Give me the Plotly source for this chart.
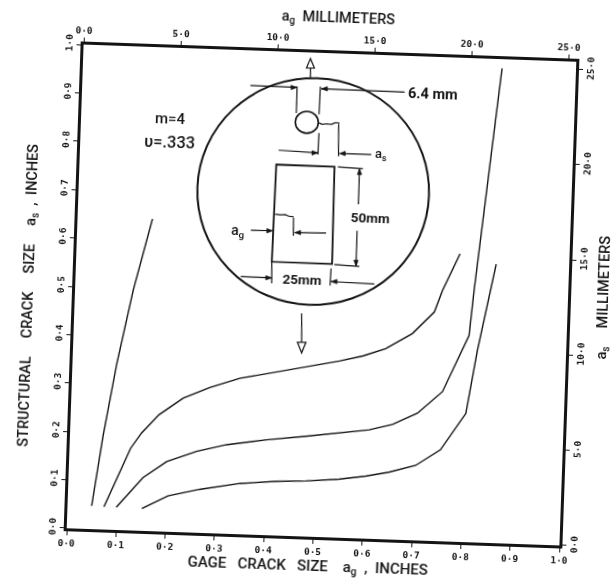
import plotly.graph_objects as go

# values (inches)
curve1_x = [0.049, 0.067, 0.090, 0.118, 0.152]
curve1_y = [0.048, 0.192, 0.344, 0.496, 0.645]
curve2_x = [0.074, 0.124, 0.145, 0.179, 0.227, 0.280, 0.340, 0.414, 0.473, 0.541, 0.588, 0.634, 0.687, 0.730, 0.745, 0.778]
curve2_y = [0.047, 0.170, 0.202, 0.241, 0.277, 0.301, 0.322, 0.338, 0.350, 0.365, 0.377, 0.394, 0.427, 0.473, 0.518, 0.595]
curve3_x = [0.099, 0.151, 0.198, 0.258, 0.318, 0.399, 0.478, 0.545, 0.606, 0.653, 0.703, 0.752, 0.802, 0.809, 0.850]
curve3_y = [0.047, 0.110, 0.145, 0.168, 0.184, 0.197, 0.207, 0.216, 0.225, 0.238, 0.263, 0.309, 0.427, 0.520, 0.981]
curve4_x = [0.151, 0.203, 0.267, 0.348, 0.422, 0.481, 0.548, 0.602, 0.649, 0.703, 0.752, 0.801, 0.820, 0.843, 0.852]
curve4_y = [0.046, 0.074, 0.090, 0.105, 0.112, 0.115, 0.121, 0.129, 0.139, 0.155, 0.189, 0.266, 0.397, 0.521, 0.576]

inch_ticks = [0.0, 0.1, 0.2, 0.3, 0.4, 0.5, 0.6, 0.7, 0.8, 0.9, 1.0]
mm_ticks = [0.0, 5.0, 10.0, 15.0, 20.0, 25.0]

INK = "#141414"
TICKFONT = dict(family="DejaVu Sans Mono", size=9.5, color=INK, weight="bold")


def lab(v):
    return f"{v:.1f}".replace(".", "·")


def P(px, py):
    """Page position in the scan -> inches on the chart's own axes."""
    dx, dy = px - 67.0, 529.0 - py
    D = 239870.0
    return (486 * dx - 16 * dy) / D, (17 * dx + 493 * dy) / D


def path(pts, close=False, fill=None, w=1.2):
    q = [P(*p) for p in pts]
    s = "M " + " L ".join(f"{a:.4f},{b:.4f}" for a, b in q) + (" Z" if close else "")
    d = dict(type="path", path=s, xref="x", yref="y", line=dict(color=INK, width=w), layer="above")
    if fill:
        d["fillcolor"] = fill
    return d


def ell(cx, cy, rx, ry, w):
    x0, y0 = P(cx, cy)
    ax, _ = P(cx + rx, cy)
    _, by = P(cx, cy - ry)
    return dict(type="circle", xref="x", yref="y",
                x0=2 * x0 - ax, x1=ax, y0=2 * y0 - by, y1=by,
                line=dict(color=INK, width=w), layer="above")


def head(tip, d, size=6, wid=2.2):
    """Filled arrowhead; d is the unit direction it points along."""
    x, y = tip
    a = (x - d[0] * size - d[1] * wid, y - d[1] * size - d[0] * wid)
    b = (x - d[0] * size + d[1] * wid, y - d[1] * size + d[0] * wid)
    return path([tip, a, b], close=True, fill=INK, w=0.6)


shapes = [
    ell(313, 190.5, 116, 114, 2),
    ell(306.5, 121, 11.5, 11, 1.6),
    path([(276, 163.3), (334.3, 165.7), (332, 263.3), (271.7, 261)], close=True, w=1.8),
    # load arrows
    path([(310, 76), (310, 66)], w=1.2),
    path([(310, 57), (306, 66.5), (314, 66.5)], close=True, fill="white", w=1.2),
    path([(301.7, 313), (301.7, 342)], w=1.2),
    path([(301.7, 352.7), (297.5, 342), (306, 342)], close=True, fill="white", w=1.2),
    # 6.4 mm
    path([(250, 84), (296.7, 86)]), head((296.7, 86), (1, 0)),
    path([(296.7, 85), (296, 111.7)]),
    path([(320, 85), (318.7, 113)]),
    path([(321, 87.3), (404.3, 90.7)]), head((321, 87.3), (-1, 0)),
    # a_s
    path([(318.7, 121.7), (322, 123), (326, 122.5), (331, 123), (335, 121.5), (339.3, 121.7)]),
    path([(318.7, 131.7), (317.7, 153.3)]),
    path([(278.3, 149), (317.7, 151.7)]), head((317.7, 151.7), (1, 0)),
    path([(338.3, 122.7), (338.3, 155)]),
    path([(371, 153.3), (341, 152.3)]), head((339, 152.3), (-1, 0)),
    # 50 mm
    path([(337.7, 165.7), (362.7, 167.7)]),
    path([(334.3, 264), (359.3, 265.7)]),
    path([(359.3, 168), (358.3, 203.3)]), head((359.3, 167.5), (0, -1)),
    path([(357, 230), (356, 265)]), head((356, 265.5), (0, 1)),
    # 25 mm
    path([(240.7, 276), (271.7, 277.3)]), head((271.7, 277.3), (1, 0)),
    path([(374.3, 283.3), (331, 281)]), head((331, 281), (-1, 0)),
    path([(271.7, 261), (271.7, 282.7)]),
    path([(331, 268), (330, 285)]),
    # a_g
    path([(250.7, 229.3), (272.7, 230)]), head((272.7, 230), (1, 0)),
    path([(275, 213.3), (280, 214), (285, 213.8), (289, 215.5), (293.3, 215.7)]),
    path([(293.3, 216.7), (293.3, 235)]),
    path([(295, 231.8), (326, 232.3)]), head((294.5, 231.8), (-1, 0)),
]


def note(px, py, text, size, angle=0, family="Roboto", weight=500):
    x, y = P(px, py)
    return dict(x=x, y=y, xref="paper", yref="paper", text=text, showarrow=False, textangle=angle,
                xanchor="center", yanchor="middle",
                font=dict(family=family, size=size, color=INK, weight=weight))


annotations = [
    note(338, 17, "a<sub>g</sub>  MILLIMETERS", 14.5),
    note(308, 567, "GAGE   CRACK   SIZE    a<sub>g</sub>  ,  INCHES", 15),
    note(28, 295, "STRUCTURAL     CRACK     SIZE     a<sub>s</sub>  ,  INCHES", 14.5, angle=-90),
    note(604, 297, "a<sub>s</sub>     MILLIMETERS", 14.5, angle=-90),
    note(170, 117, "m=4", 15),
    note(169, 141, "υ=.333", 16.5),
    note(432.7, 93, "6.4 mm", 14.5, weight=700),
    note(381, 153, "a<sub>s</sub>", 13),
    note(370, 216.7, "50mm", 13.5, weight=700),
    note(302, 279, "25mm", 13.5, weight=700),
    note(238, 230, "a<sub>g</sub>", 14),
]

fig = go.Figure()
for xs, ys in [(curve1_x, curve1_y), (curve2_x, curve2_y), (curve3_x, curve3_y), (curve4_x, curve4_y)]:
    fig.add_trace(go.Scatter(x=xs, y=ys, mode="lines", line=dict(color=INK, width=1.4), showlegend=False))
fig.add_trace(go.Scatter(x=[], y=[], xaxis="x2", yaxis="y2", showlegend=False))

common = dict(showgrid=False, zeroline=False, showline=True, linecolor=INK, linewidth=3,
              ticks="outside", ticklen=4, tickcolor=INK, tickwidth=1.2,
              tickmode="array", tickfont=TICKFONT, mirror=False)

fig.update_layout(
    width=612, height=580, paper_bgcolor="white", plot_bgcolor="white",
    margin=dict(l=74.75, r=44.25, t=52.5, b=42.5, autoexpand=False),
    showlegend=False, shapes=shapes, annotations=annotations,
    xaxis=dict(range=[0, 1], side="bottom", tickvals=inch_ticks,
               ticktext=[lab(v) for v in inch_ticks], **common),
    yaxis=dict(range=[0, 1], side="left", tickvals=inch_ticks, tickangle=-90,
               ticktext=[lab(v) for v in inch_ticks], **common),
    xaxis2=dict(range=[0, 25.4], side="top", overlaying="x", anchor="y2", tickvals=mm_ticks,
                ticktext=[lab(v) for v in mm_ticks], **common),
    yaxis2=dict(range=[0, 25.4], side="right", overlaying="y", anchor="x2", tickvals=mm_ticks,
                tickangle=-90, ticktext=[lab(v) for v in mm_ticks], **common),
)

# the scanned page sits about 2 degrees clockwise: turn the whole plot with it
post = """
document.body.style.margin='0';
document.documentElement.style.overflow='hidden';
var g=document.getElementById('{plot_id}');
g.style.transformOrigin='321.25px 295px';
g.style.transform='rotate(2deg)';
g.style.filter='blur(0.35px)';
"""
fig.write_html("out.html", post_script=post)
